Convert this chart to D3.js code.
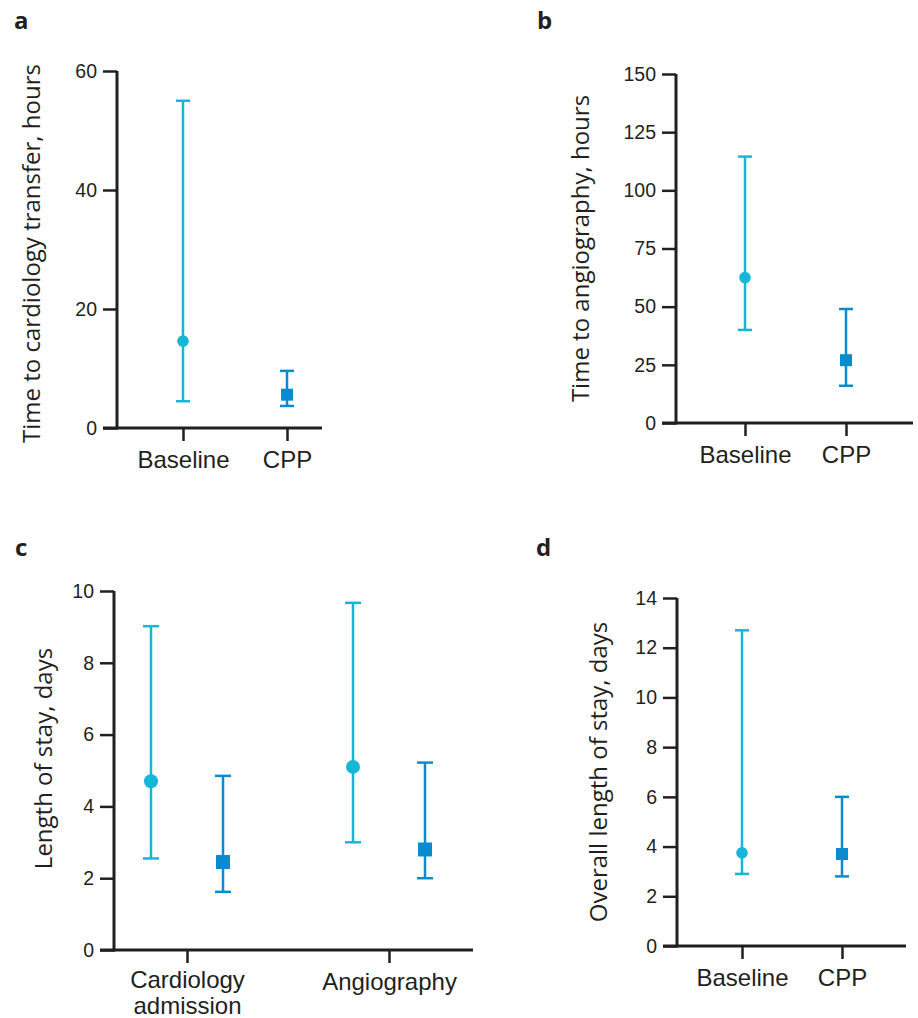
<!DOCTYPE html>
<html>
<head>
<meta charset="utf-8">
<script src="https://cdn.jsdelivr.net/npm/d3@7"></script>
<style>
  body { margin: 0; background: #fff; }
  svg { display: block; font-family: "Open Sans", sans-serif; }
</style>
</head>
<body>
<script>
// panel a - time to cardiology transfer
const aCategories = ['Baseline', 'CPP'];
const aMedian = [14.6, 5.6];
const aLow = [4.5, 3.7];
const aHigh = [55, 9.6];
const aTicks = [0, 20, 40, 60];

// panel b - time to angiography
const bCategories = ['Baseline', 'CPP'];
const bMedian = [62.5, 27];
const bLow = [40, 16];
const bHigh = [114.5, 49];
const bTicks = [0, 25, 50, 75, 100, 125, 150];

// panel c - length of stay
const cCategories = ['Cardiology admission', 'Angiography'];
const cSeries = ['Baseline', 'CPP'];
const cBaseMedian = [4.7, 5.1];
const cBaseLow = [2.55, 3.0];
const cBaseHigh = [9.02, 9.67];
const cCppMedian = [2.45, 2.8];
const cCppLow = [1.62, 2.0];
const cCppHigh = [4.85, 5.22];
const cTicks = [0, 2, 4, 6, 8, 10];

// panel d - overall length of stay
const dCategories = ['Baseline', 'CPP'];
const dMedian = [3.75, 3.7];
const dLow = [2.9, 2.8];
const dHigh = [12.7, 6.0];
const dTicks = [0, 2, 4, 6, 8, 10, 12, 14];

const ink = '#231f20';
const colors = { Baseline: '#17b6d6', CPP: '#0a8bcf' };

let svg = d3.select('body').append('svg')
    .attr('width', 918)
    .attr('height', 1018);

// builds one panel: axes, title, letter
const panel = (cfg) => {
    let g = svg.append('g').attr('transform', `translate(${cfg.x},${cfg.y})`);

    let y = d3.scaleLinear().domain([0, cfg.max]).range([cfg.h, 0]);

    let yAxis = d3.axisLeft(y).tickValues(cfg.ticks).tickSize(14).tickPadding(6).tickSizeOuter(0);
    let ya = g.append('g').call(yAxis);
    ya.select('.domain').remove();
    ya.selectAll('line').attr('stroke', ink).attr('stroke-width', 2.5);
    ya.selectAll('text').attr('fill', ink).style('font-size', '19.5px');

    // axis lines
    g.append('line').attr('x1', 0).attr('x2', 0).attr('y1', 0).attr('y2', cfg.h + 1.5)
        .attr('stroke', ink).attr('stroke-width', 3);
    g.append('line').attr('x1', -14).attr('x2', cfg.w).attr('y1', cfg.h).attr('y2', cfg.h)
        .attr('stroke', ink).attr('stroke-width', 3);

    // y title
    g.append('text')
        .attr('transform', `translate(${cfg.titleX},${cfg.h / 2 + cfg.titleDy}) rotate(-90)`)
        .attr('text-anchor', 'middle')
        .attr('fill', ink)
        .style('font-size', '24px')
        .text(cfg.title);

    // panel letter
    svg.append('text')
        .attr('x', cfg.letterX).attr('y', cfg.letterY)
        .attr('fill', ink)
        .style('font-size', '24px').style('font-weight', 'bold')
        .text(cfg.letter);

    return { g, y };
};

const xTicks = (g, x, h, cats) => {
    let xa = g.append('g').attr('transform', `translate(0,${h})`)
        .call(d3.axisBottom(x).tickValues(cats).tickSize(13).tickPadding(10).tickSizeOuter(0));
    xa.select('.domain').remove();
    xa.selectAll('line').attr('stroke', ink).attr('stroke-width', 2.5);
    xa.selectAll('text').remove();
    xa.selectAll('.tick').each(function (d) {
        let words = d.split(' ');
        let t = d3.select(this).append('text')
            .attr('fill', ink).attr('text-anchor', 'middle')
            .style('font-size', '24px');
        words.forEach((w, i) => {
            t.append('tspan').attr('x', 0).attr('y', (words.length > 1 ? 38 : 40) + i * 26).text(w);
        });
    });
};

const errorBar = (g, cx, y, med, lo, hi, series, big) => {
    let c = colors[series];
    let cap = big ? 8 : 7;
    g.append('line').attr('x1', cx).attr('x2', cx).attr('y1', y(hi)).attr('y2', y(lo))
        .attr('stroke', c).attr('stroke-width', 2.5);
    [lo, hi].forEach(v => {
        g.append('line').attr('x1', cx - cap).attr('x2', cx + cap).attr('y1', y(v)).attr('y2', y(v))
            .attr('stroke', c).attr('stroke-width', 2.5);
    });
    if (series === 'Baseline') {
        g.append('circle').attr('cx', cx).attr('cy', y(med)).attr('r', big ? 7 : 5.8).attr('fill', c);
    } else {
        let s = big ? 14 : 12;
        g.append('rect').attr('x', cx - s / 2).attr('y', y(med) - s / 2)
            .attr('width', s).attr('height', s).attr('fill', c);
    }
};

// a
{
    let p = panel({ x: 117, y: 71, w: 205, h: 357, max: 60, ticks: aTicks,
        title: 'Time to cardiology transfer, hours', titleX: -77, titleDy: 4,
        letter: 'a', letterX: 14, letterY: 29 });
    let x = d3.scalePoint().domain(aCategories).range([66, 170]);
    xTicks(p.g, x, 357, aCategories);
    aCategories.forEach((c, i) => errorBar(p.g, x(c), p.y, aMedian[i], aLow[i], aHigh[i], c, false));
}

// b
{
    let p = panel({ x: 676, y: 74, w: 237, h: 349, max: 150, ticks: bTicks,
        title: 'Time to angiography, hours', titleX: -87, titleDy: 0,
        letter: 'b', letterX: 537, letterY: 29 });
    let x = d3.scalePoint().domain(bCategories).range([69, 170]);
    xTicks(p.g, x, 349, bCategories);
    bCategories.forEach((c, i) => errorBar(p.g, x(c), p.y, bMedian[i], bLow[i], bHigh[i], c, false));
}

// c
{
    let p = panel({ x: 114, y: 591, w: 359, h: 359, max: 10, ticks: cTicks,
        title: 'Length of stay, days', titleX: -62, titleDy: -12,
        letter: 'c', letterX: 15, letterY: 556 });
    let x = d3.scalePoint().domain(cCategories).range([73, 275]);
    let off = d3.scalePoint().domain(cSeries).range([-36, 36]);
    xTicks(p.g, x, 359, cCategories);
    cCategories.forEach((c, i) => {
        errorBar(p.g, x(c) + off('Baseline'), p.y, cBaseMedian[i], cBaseLow[i], cBaseHigh[i], 'Baseline', true);
        errorBar(p.g, x(c) + off('CPP'), p.y, cCppMedian[i], cCppLow[i], cCppHigh[i], 'CPP', true);
    });
}

// d
{
    let p = panel({ x: 677, y: 598, w: 229, h: 348, max: 14, ticks: dTicks,
        title: 'Overall length of stay, days', titleX: -70, titleDy: 0,
        letter: 'd', letterX: 536, letterY: 556 });
    let x = d3.scalePoint().domain(dCategories).range([65, 165]);
    xTicks(p.g, x, 348, dCategories);
    dCategories.forEach((c, i) => errorBar(p.g, x(c), p.y, dMedian[i], dLow[i], dHigh[i], c, false));
}
</script>
</body>
</html>
